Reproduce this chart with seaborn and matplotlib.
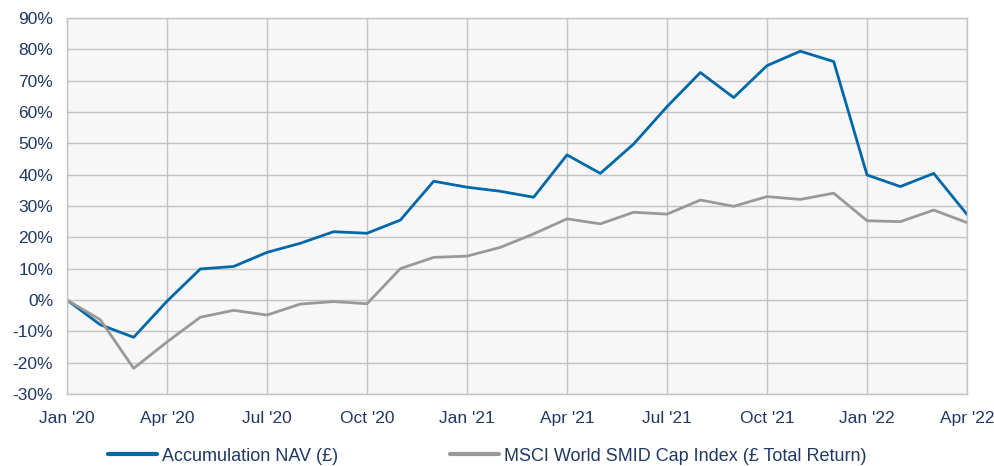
import numpy as np
import pandas as pd
import matplotlib
matplotlib.use("Agg")
import matplotlib.pyplot as plt
import seaborn as sns

# monthly cumulative performance, Jan '20 .. Apr '22 (%)
months = pd.date_range("2020-01-01", "2022-04-01", freq="MS")
nav = [0.0, -7.9, -11.9, -0.4, 9.9, 10.7, 15.2, 18.1, 21.8, 21.3, 25.5, 37.9,
       36.0, 34.7, 32.8, 46.3, 40.4, 49.8, 61.7, 72.6, 64.6, 74.8, 79.4, 76.1,
       39.9, 36.2, 40.4, 27.3]
index = [0.0, -6.3, -21.8, -13.4, -5.5, -3.3, -4.8, -1.3, -0.5, -1.2, 10.0, 13.6,
         14.0, 16.8, 21.1, 25.9, 24.3, 28.0, 27.4, 31.9, 29.9, 33.0, 32.1, 34.1,
         25.3, 25.0, 28.7, 24.7]
series_names = ["Accumulation NAV (£)", "MSCI World SMID Cap Index (£ Total Return)"]
tick_labels = ["Jan '20", "Apr '20", "Jul '20", "Oct '20", "Jan '21", "Apr '21",
               "Jul '21", "Oct '21", "Jan '22", "Apr '22"]
y_ticks = list(range(-30, 91, 10))

df = pd.DataFrame({
    "month": np.tile(np.arange(len(months)), 2),
    "value": nav + index,
    "series": np.repeat(series_names, len(months)),
})

sns.set_style("white")
plt.rcParams["font.family"] = ["Liberation Sans", "DejaVu Sans"]
text_col = "#1f3864"
grid_col = "#c3c3c3"

fig = plt.figure(figsize=(9.95, 4.66), dpi=100)
ax = fig.add_axes([0.0673, 0.1545, 0.9046, 0.8069])
ax.set_facecolor("#f7f7f7")

sns.lineplot(data=df, x="month", y="value", hue="series",
             palette=["#0068a8", "#999999"], linewidth=2.0, ax=ax)

ax.set_xlim(0, len(months) - 1)
ax.set_ylim(-30, 90)
ax.set_xticks(range(0, len(months), 3))
ax.set_xticklabels(tick_labels)
ax.set_yticks(y_ticks)
ax.set_yticklabels([f"{v}%" for v in y_ticks])
ax.grid(True, color=grid_col, linewidth=1.0)
ax.set_axisbelow(True)
for s in ax.spines.values():
    s.set_color(grid_col)
    s.set_linewidth(1.0)
ax.tick_params(axis="y", length=6, color=grid_col, labelsize=12.5, labelcolor=text_col, pad=4)
ax.tick_params(axis="x", length=0, labelsize=12.5, labelcolor=text_col, pad=12)
ax.set_xlabel("")
ax.set_ylabel("")

leg = ax.legend(loc="center", bbox_to_anchor=(0.467, -0.165), ncol=2,
                frameon=False, fontsize=13, handlelength=2.7, handletextpad=0.3,
                columnspacing=6.2)
for t in leg.get_texts():
    t.set_color(text_col)
for h in leg.get_lines():
    h.set_linewidth(3)

fig.savefig("out.png", dpi=100)
